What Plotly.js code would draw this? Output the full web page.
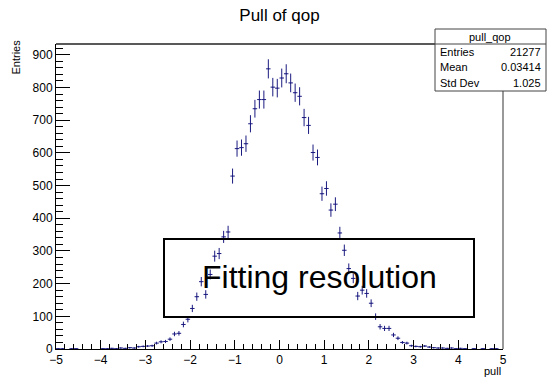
<!DOCTYPE html>
<html>
<head>
<meta charset="utf-8">
<script src="https://cdn.plot.ly/plotly-3.0.1.min.js"></script>
<style>html,body{margin:0;padding:0;background:#fff;}#chart{width:547px;height:377px;}</style>
</head>
<body>
<div id="chart"></div>
<script>
// Histogram "pull_qop": 100 bins from -5 to 5
const binLow = -5;
const binWidth = 0.1;
const counts = [
  1, 1, 0, 1, 1, 0, 0, 0, 0, 0,
  1, 1, 2, 1, 3, 2, 4, 3, 7, 8,
  9, 10, 18, 22, 23, 30, 46, 48, 75, 91,
  124, 160, 206, 167, 228, 284, 292, 343, 358, 529,
  613, 616, 628, 689, 735, 763, 763, 857, 801, 798,
  829, 842, 814, 784, 773, 708, 684, 601, 586, 475,
  491, 425, 443, 355, 302, 246, 216, 162, 180, 170,
  140, 99, 68, 63, 63, 43, 33, 20, 18, 10,
  8, 7, 9, 6, 4, 3, 3, 2, 3, 1,
  2, 1, 0, 1, 0, 1, 0, 1, 1, 0
];
const xTickVals = [-5, -4, -3, -2, -1, 0, 1, 2, 3, 4, 5];
const statLabels = ["Entries", "Mean", "Std Dev"];
const statValues = ["21277", "0.03414", "1.025"];

const xs = [], ys = [], errs = [];
counts.forEach((c, i) => {
  if (c > 0) {
    xs.push(binLow + binWidth * (i + 0.5));
    ys.push(c);
    errs.push(Math.sqrt(c));
  }
});

const lineCol = '#1a1a80';
const trace = {
  type: 'scatter', mode: 'markers', x: xs, y: ys,
  marker: {size: 1, color: lineCol},
  error_y: {type: 'data', array: errs, visible: true, width: 0, thickness: 1, color: lineCol},
  error_x: {type: 'constant', value: binWidth / 2, visible: true, width: 0, thickness: 1, color: lineCol},
  hoverinfo: 'skip', showlegend: false
};

const font = 'Liberation Sans, Arial, Helvetica, sans-serif';
// paper coords for pixel helpers
const L = 56, R = 503, T = 44, B = 349;
const px = v => (v - L) / (R - L);
const py = v => (B - v) / (B - T);

const shapes = [
  {type: 'line', xref: 'paper', yref: 'paper', x0: 0, x1: 1, y0: 1, y1: 1, line: {color: '#222', width: 1.5}},
  {type: 'line', xref: 'paper', yref: 'paper', x0: 1, x1: 1, y0: 0, y1: 1, line: {color: '#999', width: 2}},
  // stats box
  {type: 'rect', xref: 'paper', yref: 'paper', x0: px(435), x1: px(546), y0: py(91), y1: py(29), line: {color: '#444', width: 1}, fillcolor: '#fff', layer: 'above'},
  {type: 'line', xref: 'paper', yref: 'paper', x0: px(435), x1: px(546), y0: py(44), y1: py(44), line: {color: '#444', width: 1}},
  // Fitting resolution box
  {type: 'rect', xref: 'paper', yref: 'paper', x0: px(164), x1: px(474), y0: py(317), y1: py(239), line: {color: '#000', width: 2}, fillcolor: 'rgba(0,0,0,0)', layer: 'above'}
];

const annotations = [
  {xref: 'paper', yref: 'paper', x: px(490), y: py(36.5), text: 'pull_qop', showarrow: false, xanchor: 'center', yanchor: 'middle', font: {family: font, size: 11, color: '#000'}},
  {xref: 'paper', yref: 'paper', x: px(319), y: py(277), text: 'Fitting resolution', showarrow: false, xanchor: 'center', yanchor: 'middle', font: {family: font, size: 32, color: '#000'}},
  {xref: 'paper', yref: 'paper', x: px(15), y: py(38), text: 'Entries', textangle: -90, showarrow: false, xanchor: 'center', yanchor: 'top', font: {family: font, size: 11, color: '#000'}},
  {xref: 'paper', yref: 'paper', x: 1, y: py(371), text: 'pull', showarrow: false, xanchor: 'right', yanchor: 'middle', font: {family: font, size: 11, color: '#000'}}
];
statLabels.forEach((lab, i) => {
  const yc = py(51.5 + i * 15.7);
  annotations.push({xref: 'paper', yref: 'paper', x: px(438), y: yc, text: lab, showarrow: false, xanchor: 'left', yanchor: 'middle', font: {family: font, size: 11, color: '#000'}});
  annotations.push({xref: 'paper', yref: 'paper', x: px(543), y: yc, text: statValues[i], showarrow: false, xanchor: 'right', yanchor: 'middle', font: {family: font, size: 11, color: '#000'}});
});

const layout = {
  width: 547, height: 377,
  margin: {l: L, r: 547 - R, t: T, b: 377 - B, pad: 0},
  paper_bgcolor: '#fff', plot_bgcolor: '#fff',
  title: {text: 'Pull of qop', x: 0.5, xref: 'paper', y: 1 - 15 / 377, yref: 'container', yanchor: 'middle', font: {family: font, size: 17, color: '#000'}},
  xaxis: {
    range: [-5, 5], tickmode: 'array', tickvals: xTickVals, ticks: 'inside', ticklen: 9, tickwidth: 1, tickcolor: '#000',
    minor: {dtick: 0.2, tick0: -5, ticks: 'inside', ticklen: 5, tickwidth: 1, tickcolor: '#000'},
    showline: true, linecolor: '#000', linewidth: 1, showgrid: false, zeroline: false,
    tickfont: {family: font, size: 12, color: '#000'}, fixedrange: true
  },
  yaxis: {
    range: [0, 933], dtick: 100, tick0: 0, ticks: 'inside', ticklen: 14, tickwidth: 1, tickcolor: '#000',
    minor: {dtick: 20, tick0: 0, ticks: 'inside', ticklen: 7, tickwidth: 1, tickcolor: '#000'},
    showline: true, linecolor: '#000', linewidth: 1, showgrid: false, zeroline: false,
    tickfont: {family: font, size: 12, color: '#000'}, fixedrange: true
  },
  shapes: shapes,
  annotations: annotations
};

Plotly.newPlot('chart', [trace], layout, {staticPlot: true, displayModeBar: false});
</script>
</body>
</html>
